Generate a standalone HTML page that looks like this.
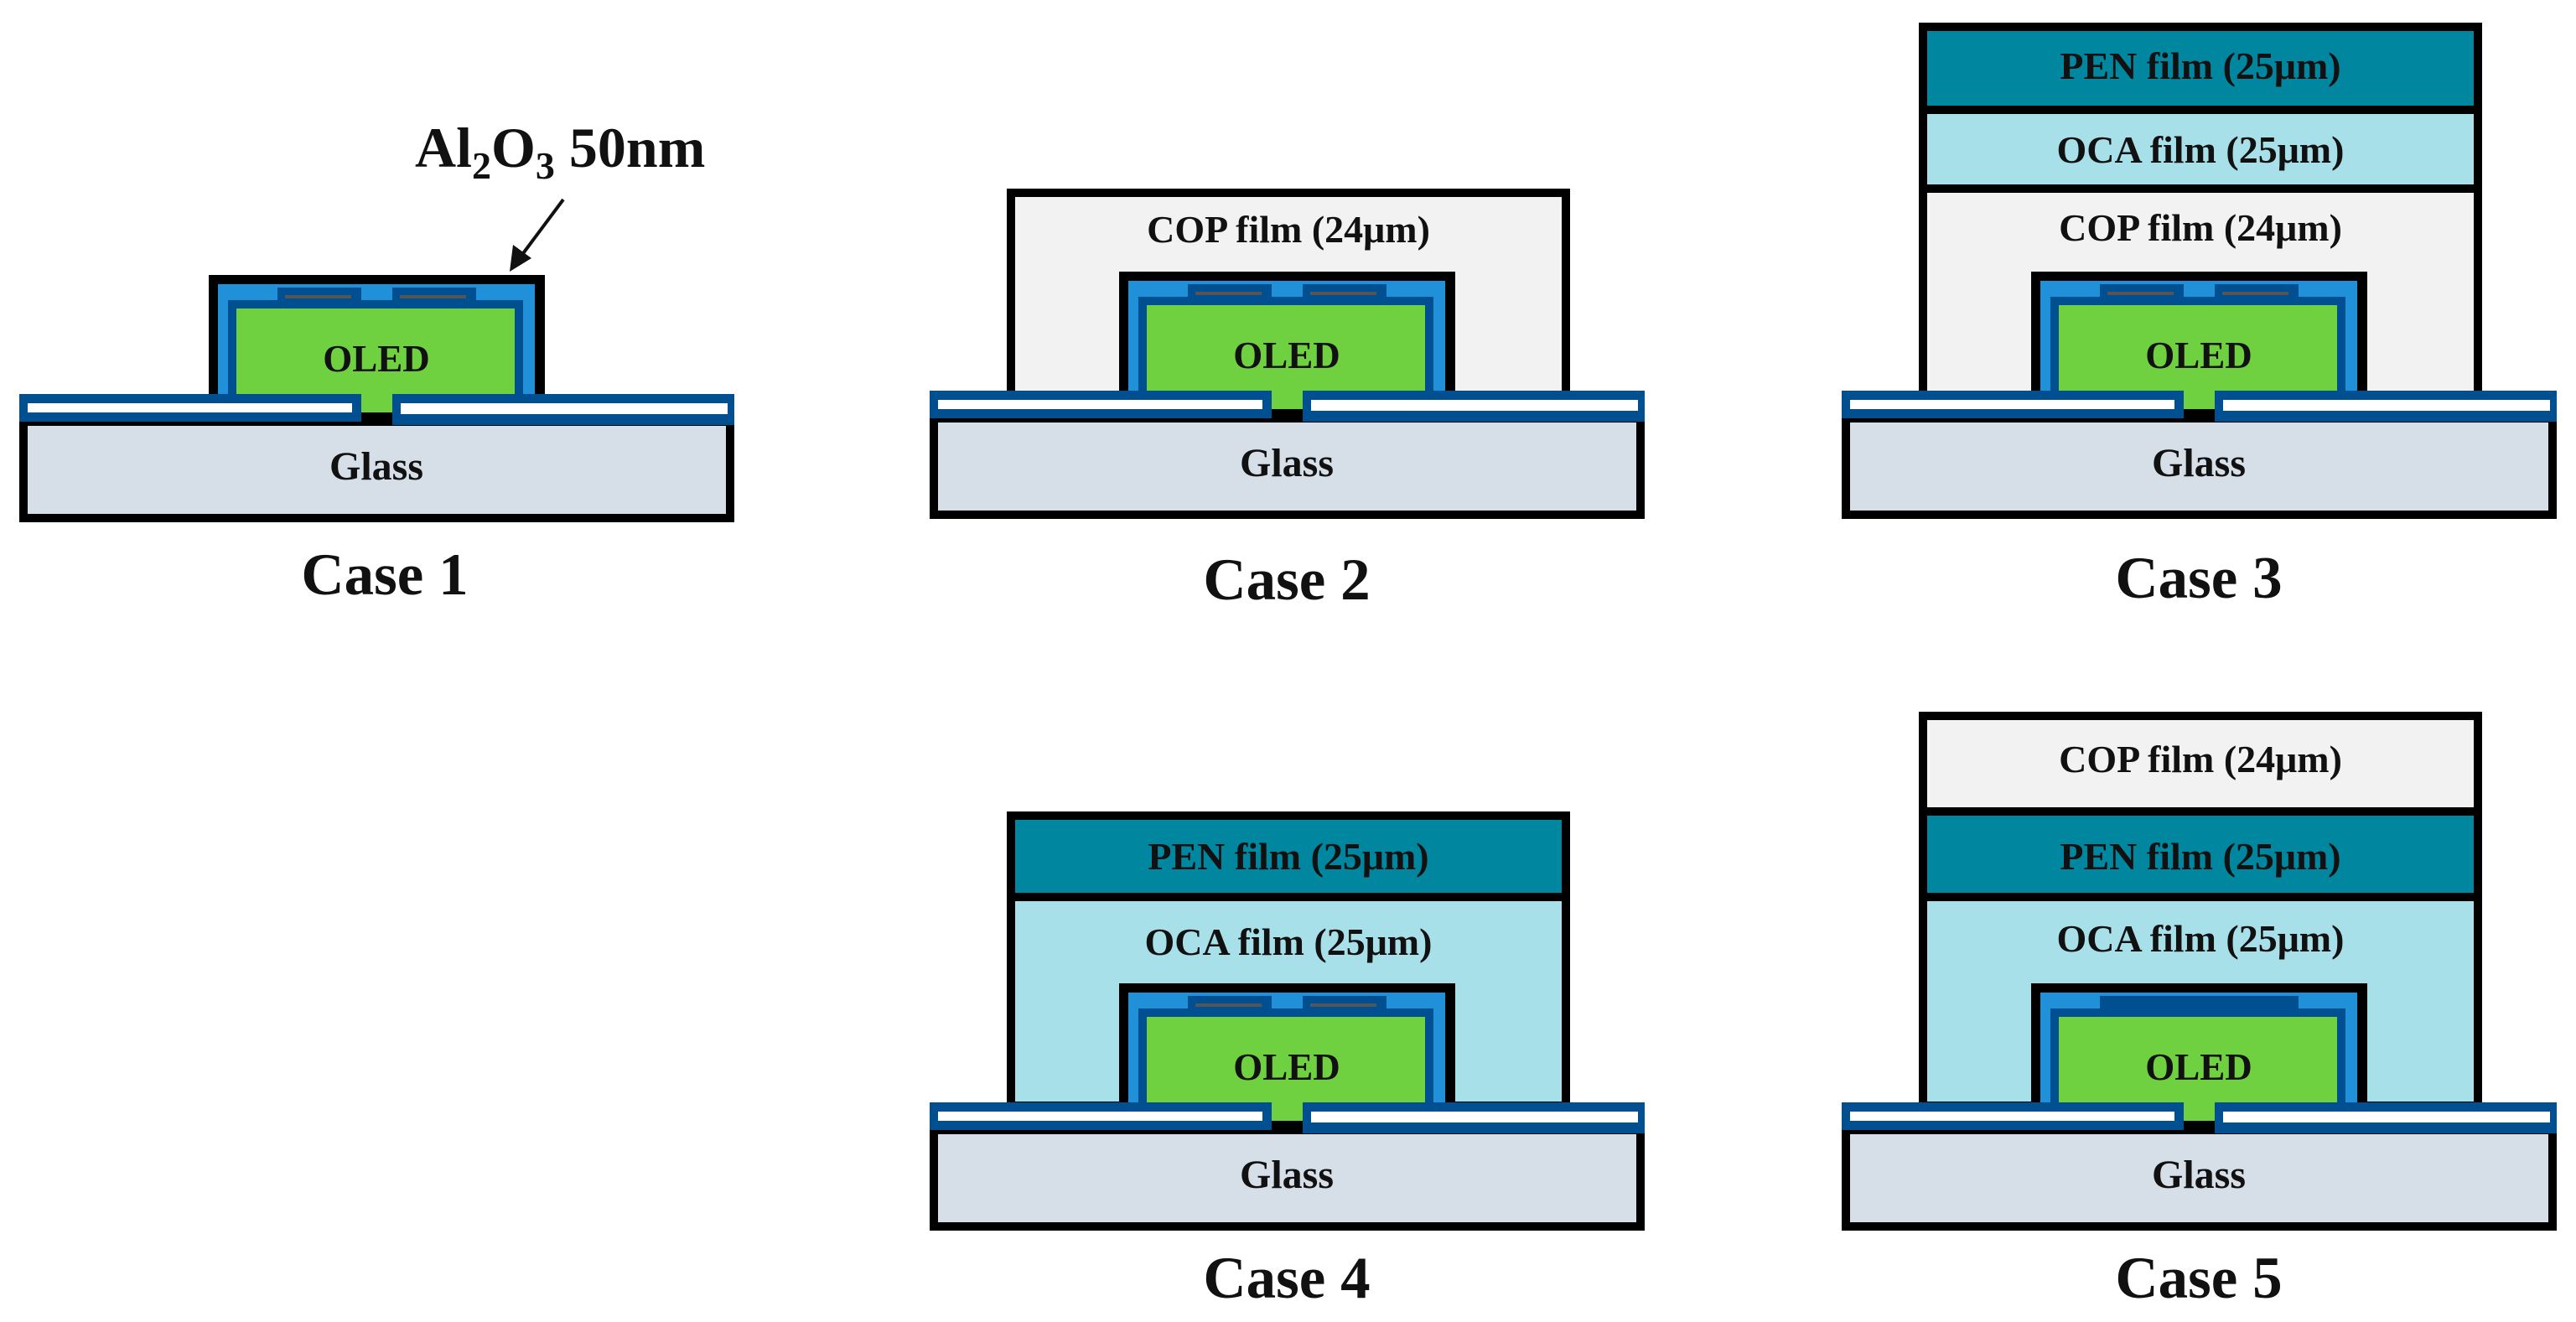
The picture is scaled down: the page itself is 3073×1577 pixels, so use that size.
<!DOCTYPE html>
<html><head><meta charset="utf-8"><style>
html,body{margin:0;padding:0;background:#fff;}
svg{display:block;}
text{font-family:"Liberation Serif",serif;font-weight:bold;fill:#111;}
</style></head><body>
<svg width="3073" height="1577" viewBox="0 0 3073 1577" xmlns="http://www.w3.org/2000/svg">
<defs>
<g id="dev">
  <rect x="5" y="33" width="843" height="115" fill="#d6dee8" stroke="#000" stroke-width="10"/>
  <rect x="226" y="-142" width="401" height="142" fill="#000"/>
  <rect x="237" y="-131" width="378" height="131" fill="#2090d8"/>
  <rect x="249" y="-112" width="352" height="112" fill="#004f91"/>
  <rect x="259" y="-102" width="332" height="102" fill="#6fd040"/>
  <rect x="308" y="-127" width="100" height="15" fill="#004f91"/>
  <rect x="445" y="-127" width="100" height="15" fill="#004f91"/>
  <rect x="317" y="-118" width="79" height="4" fill="#555"/>
  <rect x="454" y="-118" width="79" height="4" fill="#555"/>
  <rect x="0" y="0" width="408" height="33" fill="#004f91"/>
  <rect x="10" y="11" width="387" height="11" fill="#fff"/>
  <rect x="445" y="0" width="408" height="37" fill="#004f91"/>
  <rect x="455" y="11" width="390" height="13" fill="#fff"/>
  <rect x="408" y="0" width="37" height="22" fill="#6fd040"/>
  <rect x="408" y="22" width="37" height="11" fill="#000"/>
</g>
</defs>

<!-- Case 1 -->
<use href="#dev" transform="translate(23,470)"/>
<text x="449" y="443" font-size="45" text-anchor="middle">OLED</text>
<text x="449" y="572" font-size="48" text-anchor="middle">Glass</text>
<text x="459" y="709" font-size="71" text-anchor="middle">Case 1</text>
<text x="495" y="199" font-size="68">Al<tspan font-size="46" dy="14">2</tspan><tspan dy="-14">O</tspan><tspan font-size="46" dy="14">3</tspan><tspan dy="-14"> 50nm</tspan></text>
<line x1="672" y1="238" x2="622" y2="305" stroke="#111" stroke-width="4"/>
<polygon points="608,324 612,292 634,308" fill="#111"/>

<!-- Case 2 -->
<rect x="1206" y="230" width="662" height="245" fill="#f2f2f2" stroke="#000" stroke-width="10"/>
<use href="#dev" transform="translate(1109,466)"/>
<text x="1537" y="289" font-size="46" text-anchor="middle">COP film (24μm)</text>
<text x="1535" y="439" font-size="45" text-anchor="middle">OLED</text>
<text x="1535" y="568" font-size="48" text-anchor="middle">Glass</text>
<text x="1535" y="715" font-size="71" text-anchor="middle">Case 2</text>

<!-- Case 3 -->
<rect x="2294" y="32" width="662" height="443" fill="#f2f2f2" stroke="#000" stroke-width="10"/>
<rect x="2299" y="37" width="652" height="94" fill="#00869e"/>
<rect x="2299" y="131" width="652" height="94" fill="#a8e0ea"/>
<rect x="2294" y="126" width="662" height="10" fill="#000"/>
<rect x="2294" y="220" width="662" height="10" fill="#000"/>
<use href="#dev" transform="translate(2197,466)"/>
<text x="2625" y="94" font-size="46" text-anchor="middle">PEN film (25μm)</text>
<text x="2625" y="194" font-size="46" text-anchor="middle">OCA film (25μm)</text>
<text x="2625" y="287" font-size="46" text-anchor="middle">COP film (24μm)</text>
<text x="2623" y="439" font-size="45" text-anchor="middle">OLED</text>
<text x="2623" y="568" font-size="48" text-anchor="middle">Glass</text>
<text x="2623" y="713" font-size="71" text-anchor="middle">Case 3</text>

<!-- Case 4 -->
<rect x="1206" y="973" width="662" height="346" fill="#a8e0ea" stroke="#000" stroke-width="10"/>
<rect x="1211" y="978" width="652" height="92" fill="#00869e"/>
<rect x="1206" y="1065" width="662" height="10" fill="#000"/>
<use href="#dev" transform="translate(1109,1315)"/>
<text x="1537" y="1037" font-size="46" text-anchor="middle">PEN film (25μm)</text>
<text x="1537" y="1139" font-size="46" text-anchor="middle">OCA film (25μm)</text>
<text x="1535" y="1288" font-size="45" text-anchor="middle">OLED</text>
<text x="1535" y="1417" font-size="48" text-anchor="middle">Glass</text>
<text x="1535" y="1548" font-size="71" text-anchor="middle">Case 4</text>

<!-- Case 5 -->
<rect x="2294" y="854" width="662" height="465" fill="#a8e0ea" stroke="#000" stroke-width="10"/>
<rect x="2299" y="859" width="652" height="109" fill="#f2f2f2"/>
<rect x="2299" y="968" width="652" height="102" fill="#00869e"/>
<rect x="2294" y="963" width="662" height="10" fill="#000"/>
<rect x="2294" y="1065" width="662" height="10" fill="#000"/>
<use href="#dev" transform="translate(2197,1315)"/>
<rect x="2505" y="1188" width="237" height="15" fill="#004f91"/>
<text x="2625" y="921" font-size="46" text-anchor="middle">COP film (24μm)</text>
<text x="2625" y="1037" font-size="46" text-anchor="middle">PEN film (25μm)</text>
<text x="2625" y="1135" font-size="46" text-anchor="middle">OCA film (25μm)</text>
<text x="2623" y="1288" font-size="45" text-anchor="middle">OLED</text>
<text x="2623" y="1417" font-size="48" text-anchor="middle">Glass</text>
<text x="2623" y="1548" font-size="71" text-anchor="middle">Case 5</text>
</svg>
</body></html>
